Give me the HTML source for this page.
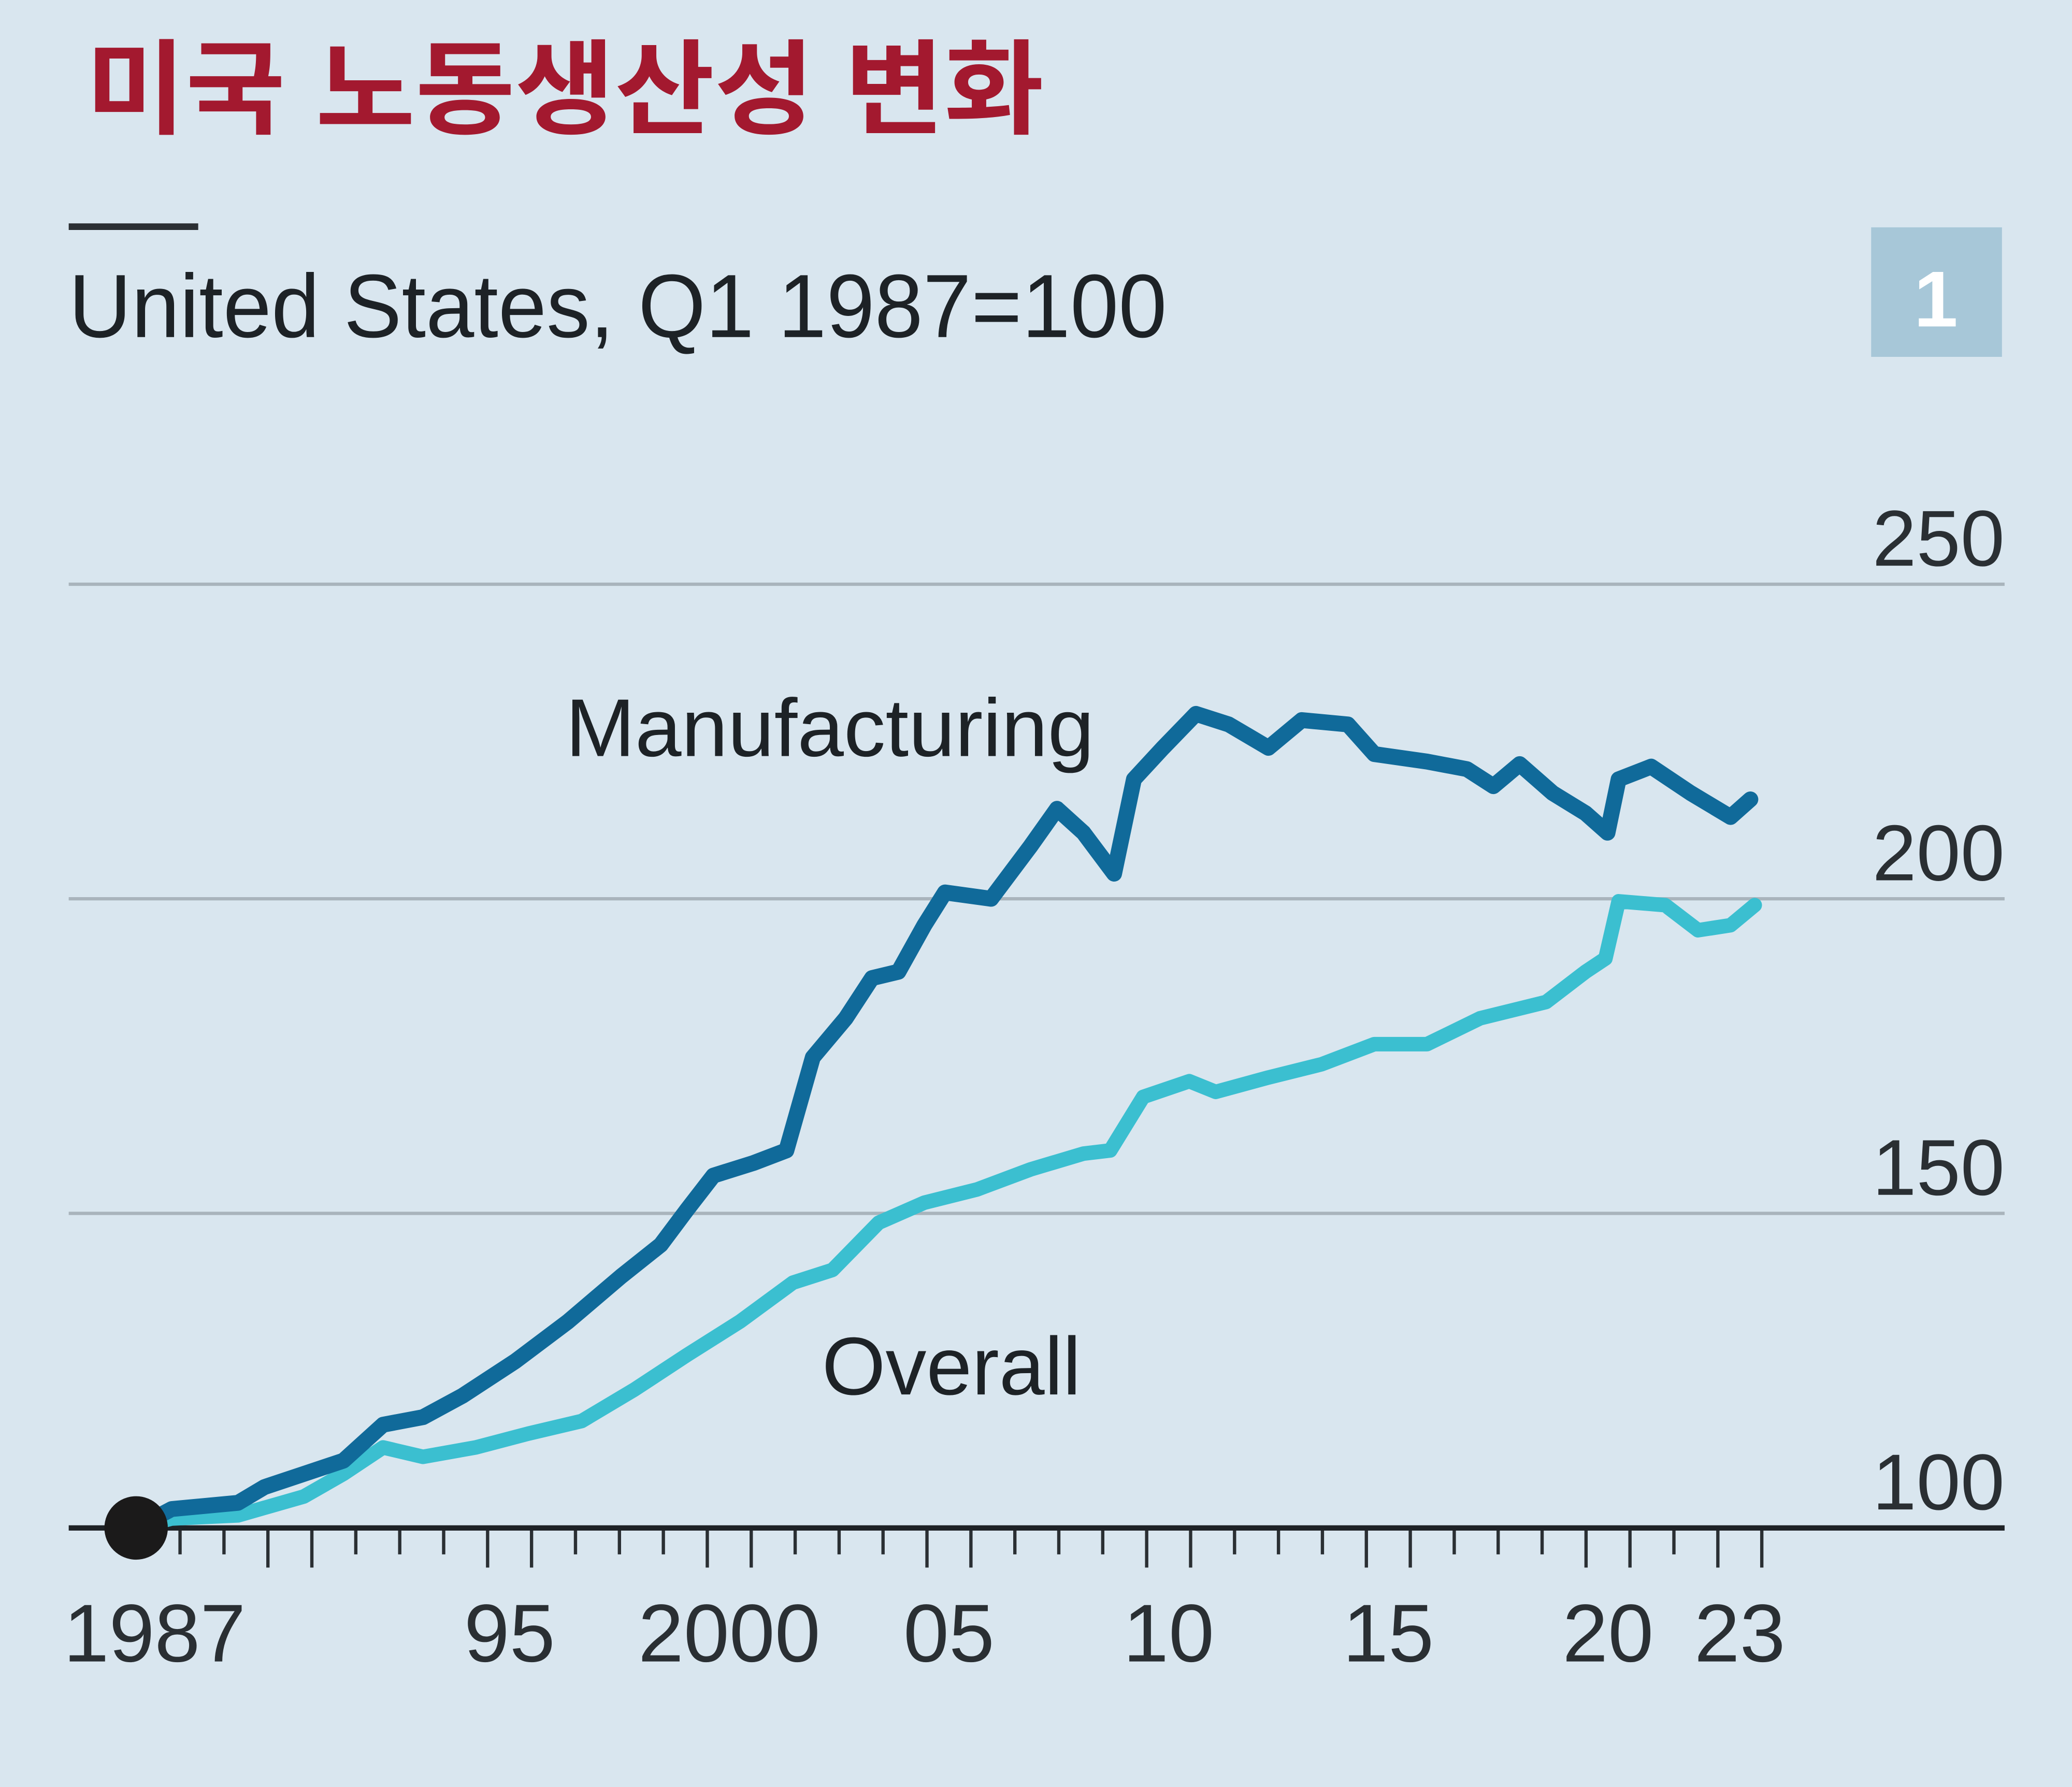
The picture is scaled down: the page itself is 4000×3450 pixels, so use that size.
<!DOCTYPE html>
<html><head><meta charset="utf-8"><style>
html,body{margin:0;padding:0;background:#d9e6ef;}
svg{display:block;}
</style></head><body>
<svg id="chart" width="4000" height="3450" viewBox="0 0 1568 1352" preserveAspectRatio="none" xmlns="http://www.w3.org/2000/svg">
<rect x="0" y="0" width="1568" height="1352" fill="#d9e6ef"/>
<text x="65" y="95" font-family="'Liberation Sans','Noto Sans CJK KR',sans-serif" font-size="78" font-weight="bold" fill="#a3192f" textLength="725" lengthAdjust="spacingAndGlyphs">미국 노동생산성 변화</text>
<rect x="52" y="169" width="98" height="5" fill="#2b2f33"/>
<text x="52" y="255" font-family="'Liberation Sans',sans-serif" font-size="68" fill="#1d2226" textLength="831" lengthAdjust="spacingAndGlyphs">United States, Q1 1987=100</text>
<rect x="1416" y="172" width="99" height="98" fill="#a7c7d8"/>
<text x="1465" y="247" text-anchor="middle" font-family="'Liberation Sans',sans-serif" font-size="60" font-weight="bold" fill="#ffffff">1</text>
<g id="grid"></g>
<g id="xaxis"></g>
<g id="series"></g>
<text x="428" y="572" font-family="'Liberation Sans',sans-serif" font-size="62" fill="#1d2226" textLength="400" lengthAdjust="spacingAndGlyphs">Manufacturing</text>
<text x="622" y="1055" font-family="'Liberation Sans',sans-serif" font-size="62" fill="#1d2226" textLength="196" lengthAdjust="spacingAndGlyphs">Overall</text>
</svg>
<script>
const yTicks = [100, 150, 200, 250];
const xLabelYears = [1987, 1995, 2000, 2005, 2010, 2015, 2020, 2023];
const xLabelText = ["1987", "95", "2000", "05", "10", "15", "20", "23"];
const mfgYears = [1987, 1987.81, 1989.32, 1989.92, 1990.82, 1991.72, 1992.62, 1993.53, 1994.43, 1995.63, 1996.83, 1998.04, 1998.94, 1999.54, 2000.14, 2001.05, 2001.8, 2002.4, 2003.15, 2003.75, 2004.35, 2004.94, 2005.41, 2006.46, 2007.36, 2007.96, 2008.56, 2009.26, 2009.71, 2010.37, 2011.12, 2011.87, 2012.77, 2013.53, 2014.58, 2015.18, 2016.38, 2017.29, 2017.89, 2018.49, 2019.24, 2019.99, 2020.49, 2020.74, 2021.48, 2022.38, 2023.29, 2023.74];
const mfgValues = [100, 103, 104, 106.5, 108.6, 110.7, 116.4, 117.6, 121, 126.5, 132.8, 140, 145, 150.6, 156, 158, 160, 174.8, 181, 187.4, 188.4, 195.8, 201, 200, 208.4, 214.3, 210.5, 204, 219, 224, 229.4, 227.7, 224, 228.4, 227.7, 223, 221.8, 220.6, 217.9, 221.4, 216.8, 213.6, 210.5, 219, 221, 216.8, 213, 215.8];
const allYears = [1987, 1987.81, 1989.32, 1990.82, 1991.72, 1992.62, 1993.53, 1994.73, 1995.93, 1997.14, 1998.34, 1999.54, 2000.74, 2001.95, 2002.85, 2003.9, 2004.94, 2006.14, 2007.36, 2008.56, 2009.17, 2009.92, 2010.97, 2011.57, 2012.77, 2013.98, 2015.18, 2016.38, 2017.59, 2019.09, 2019.99, 2020.44, 2020.74, 2021.8, 2022.55, 2023.29, 2023.84];
const allValues = [100, 101.5, 102, 105, 108.6, 112.8, 111.3, 112.8, 115, 117, 122, 127.5, 132.8, 139, 141, 148.5, 151.7, 153.8, 157, 159.5, 160, 168.5, 171, 169.3, 171.6, 173.7, 176.9, 176.9, 181, 183.6, 188.4, 190.5, 199.6, 199, 195, 195.8, 199];

const NS = "http://www.w3.org/2000/svg";
function xs(year){ return 103 + (year - 1987) * 33.25; }
function ys(v){ return 1156 - (v - 100) * 4.76; }
function mk(tag, attrs, parent){
  const e = document.createElementNS(NS, tag);
  for (const k in attrs) e.setAttribute(k, attrs[k]);
  parent.appendChild(e);
  return e;
}
const grid = document.getElementById('grid');
yTicks.forEach(function(t){
  if (t !== 100) {
    const l = mk('line', {x1:52, x2:1517, y1:ys(t), y2:ys(t), stroke:'#a9b4bc', 'stroke-width':2.5}, grid);
    
    
  }
  const tx = mk('text', {x:1517, y:ys(t) - 14, 'text-anchor':'end', 'font-family':"'Liberation Sans',sans-serif", 'font-size':60, fill:'#2a2f33'}, grid);
  tx.textContent = String(t);
  
  
});
const xa = document.getElementById('xaxis');
for (let y = 1988; y <= 2024; y++) {
  const long = xLabelYears.indexOf(y) >= 0 && y !== 1987 || xLabelYears.indexOf(y - 1) >= 0 && y - 1 !== 1987 || y === 1990 || y === 1991;
  const tk = mk('line', {x1:xs(y), x2:xs(y), y1:1156, y2:long ? 1186 : 1176, stroke:'#2a2f33', 'stroke-width':2.5}, xa);
  
  
}
const base = mk('line', {x1:52, x2:1517, y1:ys(100), y2:ys(100), stroke:'#1e2226', 'stroke-width':4}, xa);


xLabelYears.forEach(function(y, i){
  const cx = y === 1987 ? 117 : xs(y + 0.5);
  const tx = mk('text', {x:cx, y:1257, 'text-anchor':'middle', 'font-family':"'Liberation Sans',sans-serif", 'font-size':62, fill:'#2a2f33'}, xa);
  tx.textContent = xLabelText[i];
  
  
});
const sg = document.getElementById('series');
function path(years, vals){
  return years.map(function(y, i){ return (i ? 'L' : 'M') + xs(y).toFixed(1) + ',' + ys(vals[i]).toFixed(1); }).join(' ');
}
const pAll = mk('path', {d:path(allYears, allValues), fill:'none', stroke:'#3bbfd0', 'stroke-width':11, 'stroke-linejoin':'round', 'stroke-linecap':'round'}, sg);


const pMfg = mk('path', {d:path(mfgYears, mfgValues), fill:'none', stroke:'#106a9a', 'stroke-width':12, 'stroke-linejoin':'round', 'stroke-linecap':'round'}, sg);


const dot = mk('circle', {cx:xs(1987), cy:ys(100), r:24, fill:'#1b1a1a'}, sg);


</script>
</body></html>
